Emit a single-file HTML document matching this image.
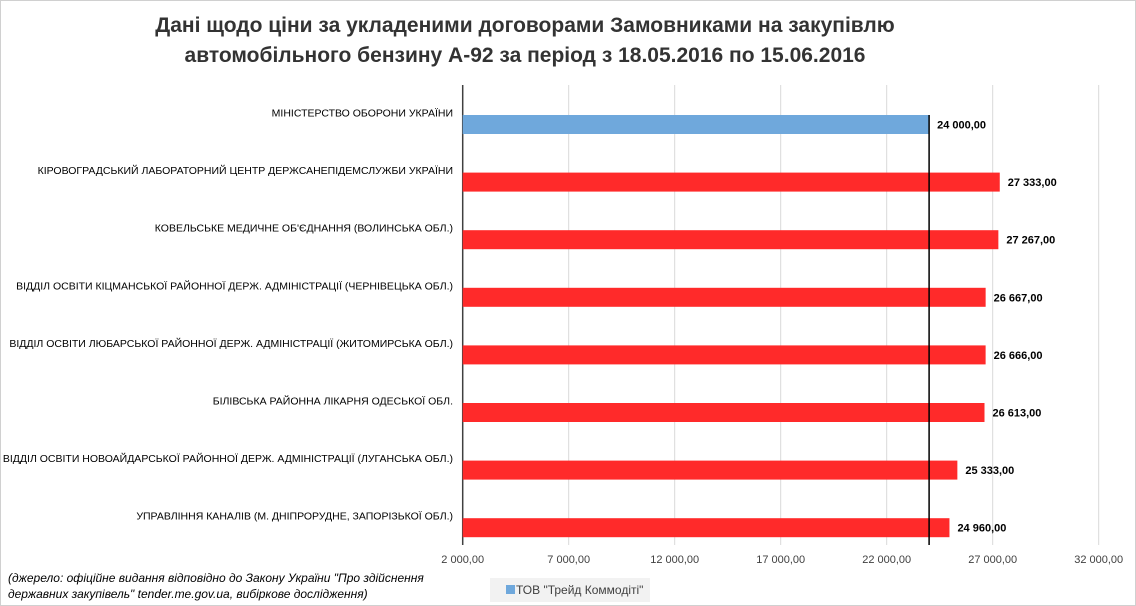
<!DOCTYPE html>
<html><head><meta charset="utf-8"><style>
body{margin:0;background:#fff;}
svg{display:block;font-family:"Liberation Sans",sans-serif;}
</style></head><body>
<svg id="c" width="1136" height="606">
<rect x="0.5" y="0.5" width="1135" height="605" fill="#fff" stroke="#d0d0d0"/>
<text x="525" y="32" text-anchor="middle" font-size="21" font-weight="bold" fill="#333">Дані щодо ціни за  укладеними договорами Замовниками на закупівлю</text>
<text x="525" y="62" text-anchor="middle" font-size="21" font-weight="bold" fill="#333">автомобільного бензину А-92  за період з 18.05.2016 по 15.06.2016</text>
<g id="grid"></g><g id="bars"></g>
<g font-style="italic" font-size="12" fill="#000">
<text x="8" y="582">(джерело: офіційне видання відповідно до Закону України "Про здійснення</text>
<text x="8" y="598">державних закупівель" tender.me.gov.ua, вибіркове дослідження)</text>
</g>
<g>
<rect x="490" y="578" width="160" height="24" fill="#f2f2f2"/>
<rect x="506" y="585" width="9" height="9" fill="#6fa8dc"/>
<text x="516" y="594" font-size="12" fill="#404040">ТОВ "Трейд Коммодіті"</text>
</g>
</svg>
<script>
const categories=["МІНІСТЕРСТВО ОБОРОНИ УКРАЇНИ","КІРОВОГРАДСЬКИЙ ЛАБОРАТОРНИЙ ЦЕНТР ДЕРЖСАНЕПІДЕМСЛУЖБИ УКРАЇНИ","КОВЕЛЬСЬКЕ МЕДИЧНЕ ОБ'ЄДНАННЯ (ВОЛИНСЬКА ОБЛ.)","ВІДДІЛ ОСВІТИ КІЦМАНСЬКОЇ РАЙОННОЇ ДЕРЖ. АДМІНІСТРАЦІЇ (ЧЕРНІВЕЦЬКА ОБЛ.)","ВІДДІЛ ОСВІТИ ЛЮБАРСЬКОЇ  РАЙОННОЇ ДЕРЖ. АДМІНІСТРАЦІЇ (ЖИТОМИРСЬКА  ОБЛ.)","БІЛІВСЬКА РАЙОННА ЛІКАРНЯ ОДЕСЬКОЇ ОБЛ.","ВІДДІЛ ОСВІТИ НОВОАЙДАРСЬКОЇ РАЙОННОЇ ДЕРЖ. АДМІНІСТРАЦІЇ (ЛУГАНСЬКА ОБЛ.)","УПРАВЛІННЯ КАНАЛІВ (М. ДНІПРОРУДНЕ, ЗАПОРІЗЬКОЇ ОБЛ.)"];
const values=[24000,27333,27267,26667,26666,26613,25333,24960];
const valueLabels=["24 000,00","27 333,00","27 267,00","26 667,00","26 666,00","26 613,00","25 333,00","24 960,00"];
const ticks=[2000,7000,12000,17000,22000,27000,32000];
const tickLabels=["2 000,00","7 000,00","12 000,00","17 000,00","22 000,00","27 000,00","32 000,00"];
const refValue=24000;
(function(){
const NS="http://www.w3.org/2000/svg";
const x0=462.7,pxPer=0.0212,plotTop=85,plotBottom=545,y0=124.5,step=57.6,bh=19;
const X=v=>x0+(v-2000)*pxPer;
const Y=i=>y0+i*step;
function mk(t,a,p){const e=document.createElementNS(NS,t);for(const k in a)e.setAttribute(k,a[k]);p.appendChild(e);return e;}
const g=document.getElementById('grid'),b=document.getElementById('bars');
ticks.forEach((t,i)=>{
 const l=mk('line',{x1:X(t),x2:X(t),y1:plotTop,y2:plotBottom,stroke:i==0?'#404040':'#d9d9d9','stroke-width':i==0?1.5:1},g);
 
 
 const tx=mk('text',{x:X(t),y:plotBottom+18,'text-anchor':'middle','font-size':11,fill:'#404040'},g);
 tx.textContent=tickLabels[i];
 
 
});
categories.forEach((c,i)=>{
 const y=Y(i);
 const lab=mk('text',{x:453,y:y-8,'text-anchor':'end','font-size':10.5,fill:'#000'},b);
 lab.textContent=c;
 
 
 const r=mk('rect',{x:X(2000),y:y-bh/2,width:X(values[i])-X(2000),height:bh,fill:i==0?'#6fa8dc':'#ff2a2a'},b);
 
 
 const v=mk('text',{x:X(values[i])+8,y:y+4,'font-size':11,'font-weight':'bold',fill:'#000'},b);
 v.textContent=valueLabels[i];
 
 
});
const rl=mk('line',{x1:X(refValue),x2:X(refValue),y1:Y(0)-bh/2,y2:plotBottom,stroke:'#000','stroke-width':1.5},b);


})();
</script>
</body></html>
